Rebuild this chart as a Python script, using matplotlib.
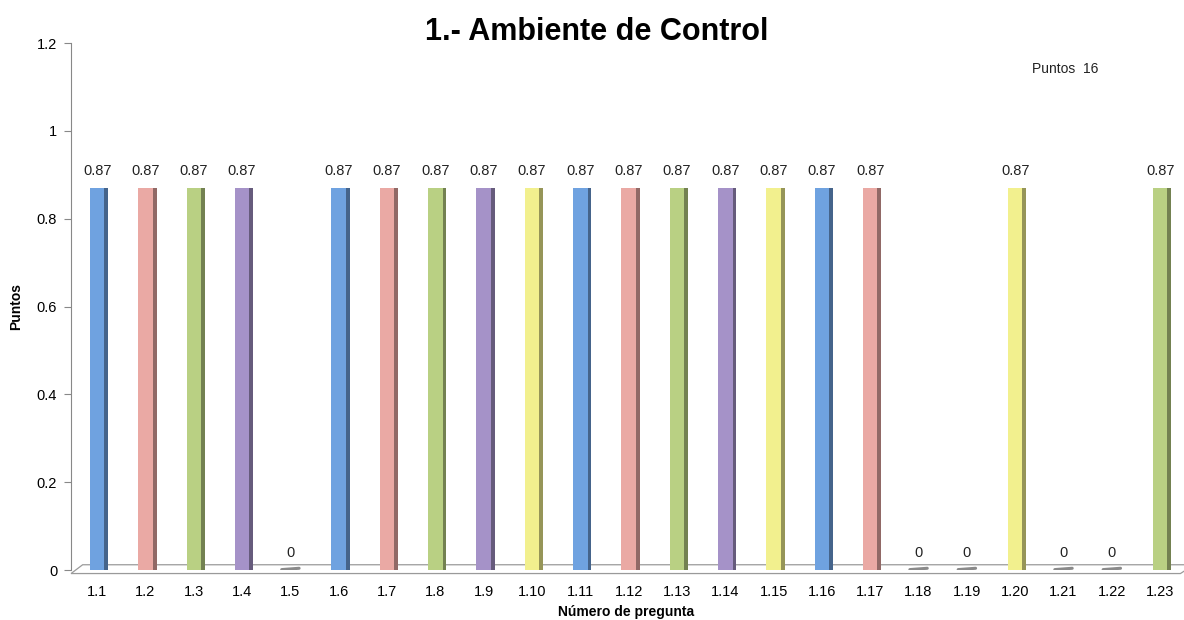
import matplotlib
matplotlib.use("Agg")
import matplotlib.pyplot as plt
from matplotlib.colors import to_rgb
import numpy as np

plt.rcParams["font.family"] = ["Liberation Sans", "DejaVu Sans"]

preguntas = ["1.1", "1.2", "1.3", "1.4", "1.5", "1.6", "1.7", "1.8", "1.9", "1.10",
             "1.11", "1.12", "1.13", "1.14", "1.15", "1.16", "1.17", "1.18", "1.19",
             "1.20", "1.21", "1.22", "1.23"]
puntos = [0.87, 0.87, 0.87, 0.87, 0, 0.87, 0.87, 0.87, 0.87, 0.87,
          0.87, 0.87, 0.87, 0.87, 0.87, 0.87, 0.87, 0, 0,
          0.87, 0, 0, 0.87]
total_puntos = 16
paleta = ["#6fa2e0", "#eaa9a4", "#b9d083", "#a592c8", "#f2f08e"]


def darker(c, f=0.62):
    r, g, b = to_rgb(c)
    return (r * f, g * f, b * f)


fig = plt.figure(figsize=(11.84, 6.2), dpi=100)
ax = fig.add_axes([0.06, 0.0806, 0.937, 0.85])

x = np.arange(len(preguntas))
w = 0.30
side = 0.08
for i, v in enumerate(puntos):
    c = paleta[i % len(paleta)]
    if v > 0:
        ax.bar(x[i], v, width=w, color=c, zorder=3)
        ax.bar(x[i] + w / 2 + side / 2, v, width=side, color=darker(c), zorder=3)
        ax.text(x[i], v + 0.022, f"{v:.2f}", ha="center", va="bottom", fontsize=10.5, color="#222222")
    else:
        ax.plot([x[i] - 0.18, x[i] + 0.18], [0.001, 0.004], color="#8a8a8a", lw=2.2,
                solid_capstyle="round", zorder=3)
        ax.text(x[i], 0.022, "0", ha="center", va="bottom", fontsize=10.5, color="#222222")

# 3D-like floor
ax.fill([-0.54, 22.42, 22.7, -0.3], [-0.008, -0.008, 0.012, 0.012],
        facecolor="white", edgecolor="#9a9a9a", lw=0.9, zorder=2, clip_on=False)

ax.set_xlim(-0.54, 22.42)
ax.set_ylim(0, 1.2)
ax.set_xticks(x)
ax.set_xticklabels(preguntas, fontsize=10.5)
ax.set_yticks([0, 0.2, 0.4, 0.6, 0.8, 1.0, 1.2])
ax.set_yticklabels(["0", "0.2", "0.4", "0.6", "0.8", "1", "1.2"], fontsize=10.5)
ax.tick_params(axis="x", length=0, pad=11)
ax.tick_params(axis="y", length=5, direction="out", color="#888888", pad=5)
for s in ["top", "right", "bottom"]:
    ax.spines[s].set_visible(False)
ax.spines["left"].set_color("#888888")

ax.set_ylabel("Puntos", fontsize=10, fontweight="bold", labelpad=10)
ax.set_xlabel("Número de pregunta", fontsize=10, fontweight="bold", labelpad=4)
fig.text(0.504, 0.948, "1.- Ambiente de Control", ha="center", va="center",
         fontsize=22, fontweight="bold")
fig.text(0.872, 0.883, f"Puntos  {total_puntos}", fontsize=10, color="#222222")

fig.savefig("out.png", dpi=100)
